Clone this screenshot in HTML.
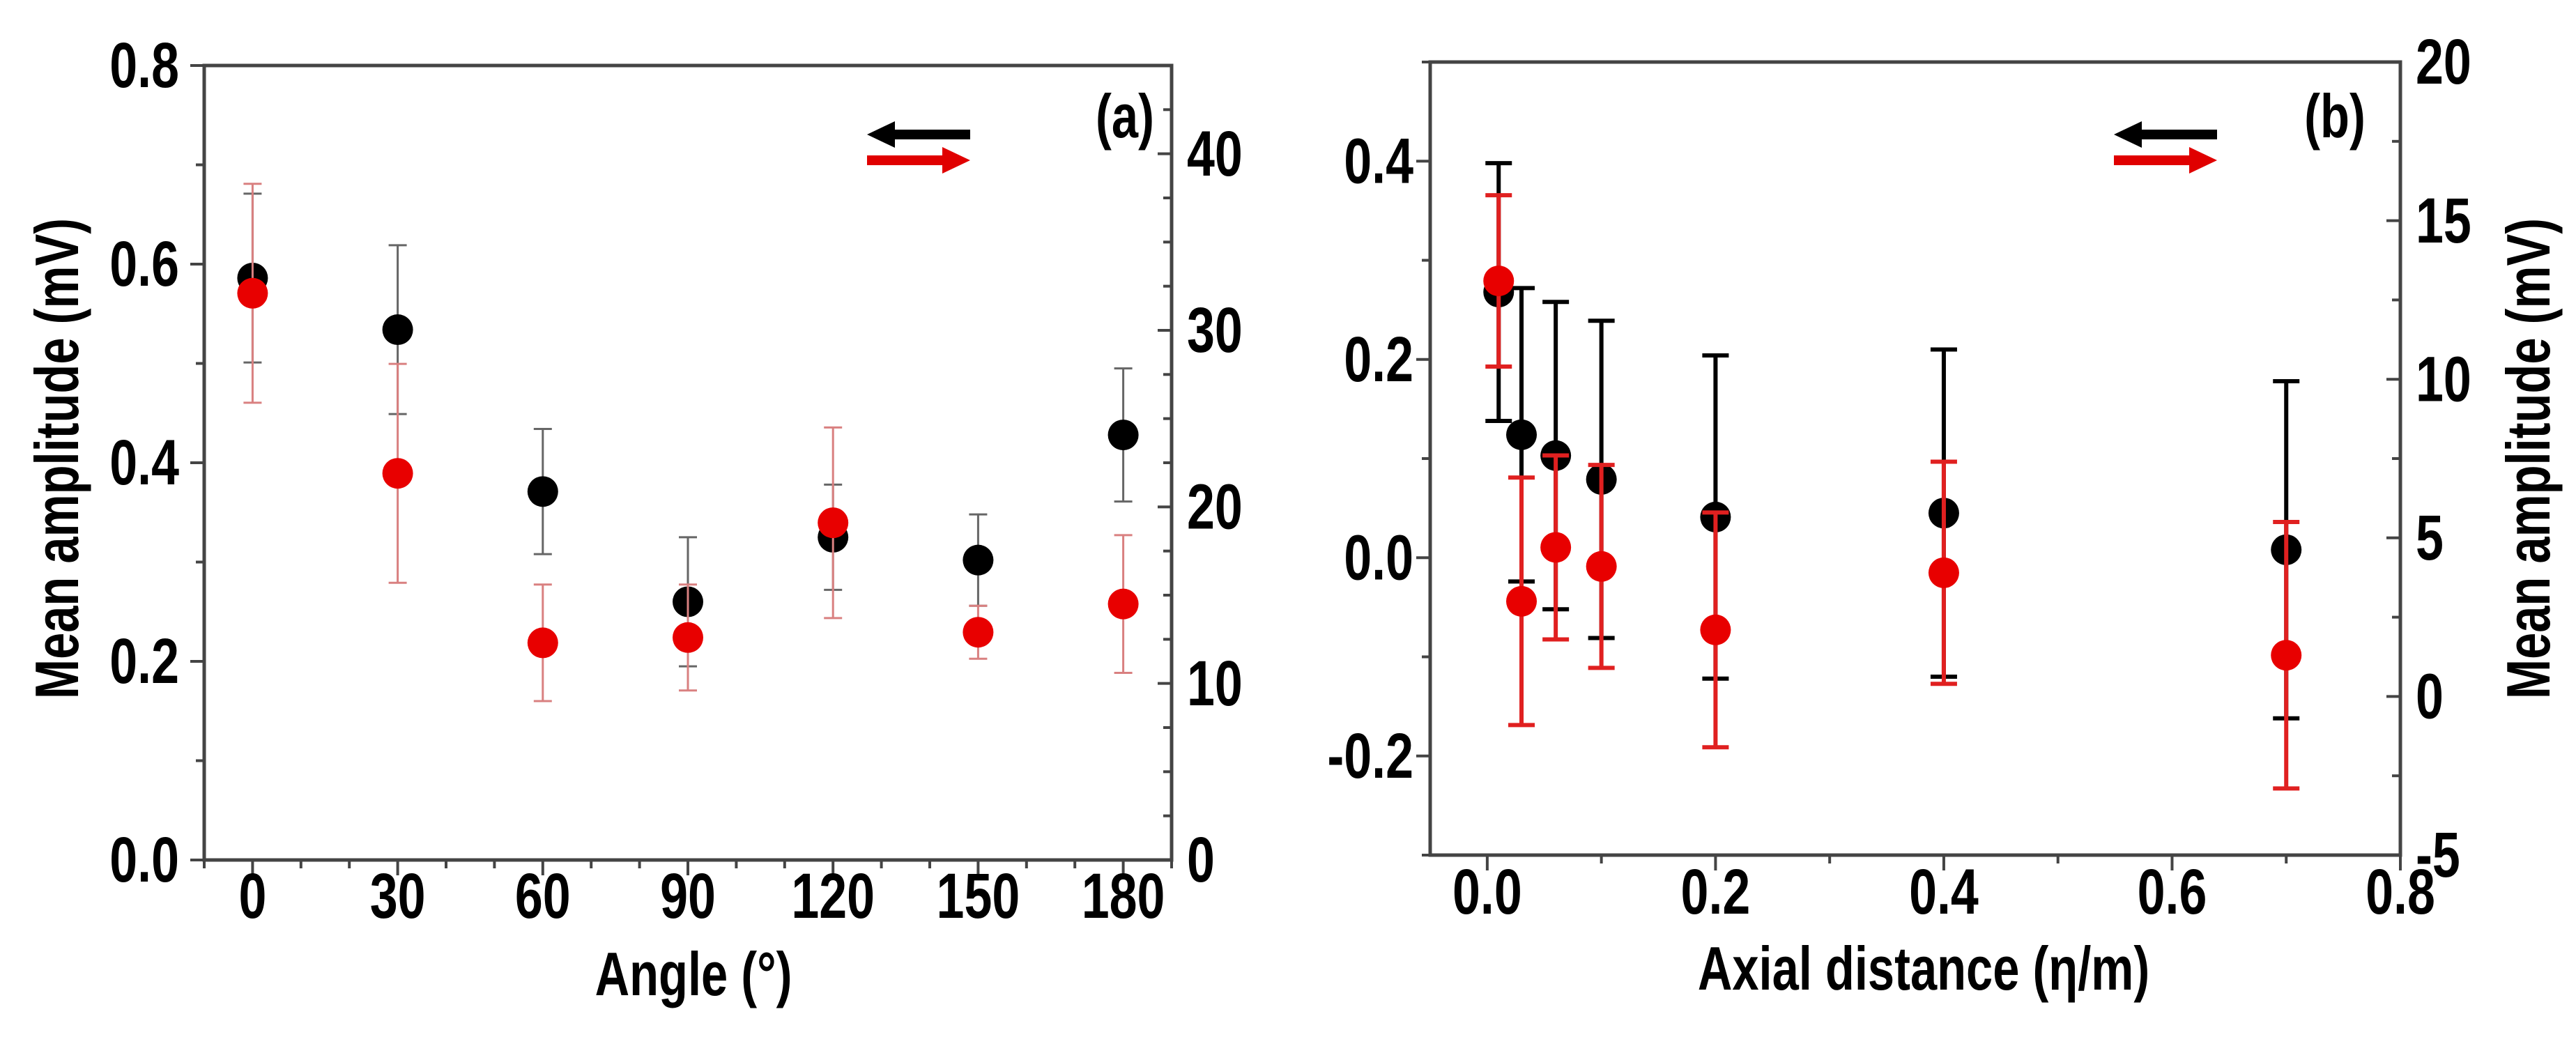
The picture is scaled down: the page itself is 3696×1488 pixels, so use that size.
<!DOCTYPE html>
<html><head><meta charset="utf-8"><style>
html,body{margin:0;padding:0;background:#fff;}
svg{display:block;}
text{font-family:"Liberation Sans Narrow","Liberation Sans",sans-serif;font-weight:bold;fill:#000;}
</style></head><body>
<svg id="fig" width="3696" height="1488" viewBox="0 0 3696 1488"></svg>
<script>
// ---- Panel (a) data ----
const angleCats = [0, 30, 60, 90, 120, 150, 180];
const aBlack = [0.586, 0.534, 0.371, 0.260, 0.325, 0.302, 0.428];
const aBlackErr = [0.085, 0.085, 0.063, 0.065, 0.053, 0.046, 0.067];
const aRed = [32.1, 21.9, 12.3, 12.6, 19.1, 12.9, 14.5];
const aRedErr = [6.2, 6.2, 3.3, 3.0, 5.4, 1.5, 3.9];
const aLeftTicks = ["0.0", "0.2", "0.4", "0.6", "0.8"];
const aRightTicks = ["0", "10", "20", "30", "40"];
// ---- Panel (b) data ----
const axialCats = [0.01, 0.03, 0.06, 0.1, 0.2, 0.4, 0.7];
const bBlack = [0.268, 0.124, 0.103, 0.079, 0.041, 0.045, 0.008];
const bBlackErr = [0.130, 0.148, 0.155, 0.160, 0.163, 0.165, 0.170];
const bRed = [13.1, 3.0, 4.7, 4.1, 2.1, 3.9, 1.3];
const bRedErr = [2.7, 3.9, 2.9, 3.2, 3.7, 3.5, 4.2];
const bLeftTicks = ["-0.2", "0.0", "0.2", "0.4"];
const bRightTicks = ["-5", "0", "5", "10", "15", "20"];
const bXTicks = ["0.0", "0.2", "0.4", "0.6", "0.8"];

const NS = "http://www.w3.org/2000/svg";
const svg = document.getElementById("fig");
const SQ = 0.78;
function el(tag, attrs, parent) {
  const e = document.createElementNS(NS, tag);
  for (const k in attrs) e.setAttribute(k, attrs[k]);
  (parent || svg).appendChild(e);
  return e;
}
function txt(s, x, y, size, anchor, parent, rot) {
  const t = el("text", {x: 0, y: 0, "font-size": size, "text-anchor": anchor || "middle", "dominant-baseline": "central",
    transform: `translate(${x},${y})${rot ? " rotate(" + rot + ")" : ""} scale(${SQ},1)`}, parent);
  t.textContent = s;
  return t;
}
function lin(d0, d1, r0, r1) { return v => r0 + (v - d0) / (d1 - d0) * (r1 - r0); }

function panel(cfg) {
  const g = el("g", {});
  
  
  const {L, R, T, B} = cfg;
  const sx = lin(cfg.xmin, cfg.xmax, L, R);
  const sl = lin(cfg.lmin, cfg.lmax, B, T);
  const sr = lin(cfg.rmin, cfg.rmax, B, T);
  const frame = el("rect", {x: L, y: T, width: R - L, height: B - T, fill: "none", stroke: "#444", "stroke-width": 5}, g);
  
  
  for (let v = cfg.xmin + cfg.xminorOff; v <= cfg.xmax + 1e-9; v += cfg.xminor) {
    const major = Math.abs(Math.round(v / cfg.xmajor) * cfg.xmajor - v) < 1e-6;
    el("line", {x1: sx(v), x2: sx(v), y1: B, y2: B + (major ? 22 : 12), stroke: "#444", "stroke-width": 4}, g);
  }
  cfg.xlabels.forEach(s => {
    const t = txt(s, sx(parseFloat(s)), cfg.xlabY, 92, "middle", g);
    
    
  });
  for (let v = cfg.lmin; v <= cfg.lmax + 1e-9; v += cfg.lminor) {
    const major = Math.abs(Math.round(v / cfg.lmajor) * cfg.lmajor - v) < 1e-6;
    el("line", {x1: L, x2: L - (major ? 20 : 12), y1: sl(v), y2: sl(v), stroke: "#444", "stroke-width": 4}, g);
  }
  cfg.llabels.forEach(s => {
    const t = txt(s, cfg.llabX, sl(parseFloat(s)), 92, "end", g);
    
    
  });
  for (let v = cfg.rmin; v <= cfg.rmax + 1e-9; v += cfg.rminor) {
    const major = Math.abs(Math.round(v / cfg.rmajor) * cfg.rmajor - v) < 1e-6;
    el("line", {x1: R, x2: R - (major ? 20 : 12), y1: sr(v), y2: sr(v), stroke: "#444", "stroke-width": 4}, g);
  }
  cfg.rlabels.forEach(s => {
    const t = txt(s, R + 22, sr(parseFloat(s)), 92, "start", g);
    
    
  });
  function series(xs, ys, es, scale, color, ecolor, ew, cap, nm) {
    xs.forEach((xv, i) => {
      const x = sx(xv), y1 = scale(ys[i] + es[i]), y2 = scale(ys[i] - es[i]);
      const eb = el("g", {stroke: ecolor, "stroke-width": ew}, g);
      
      
      el("line", {x1: x, x2: x, y1: y1, y2: y2}, eb);
      el("line", {x1: x - cap, x2: x + cap, y1: y1, y2: y1}, eb);
      el("line", {x1: x - cap, x2: x + cap, y1: y2, y2: y2}, eb);
    });
    xs.forEach((xv, i) => {
      const c = el("circle", {cx: sx(xv), cy: scale(ys[i]), r: 22, fill: color}, g);
      
      
    });
  }
  series(cfg.xs, cfg.black, cfg.blackErr, sl, "#000", cfg.bEC, cfg.ew, cfg.cap, "black-series");
  series(cfg.xs, cfg.red, cfg.redErr, sr, "#e80000", cfg.rEC, cfg.ew, cfg.cap, "red-series");
  const ax = cfg.arrowX;
  const la = el("g", {}, g);
  
  
  el("rect", {x: ax + 30, y: 186, width: 118, height: 14, fill: "#000"}, la);
  el("polygon", {points: `${ax},193 ${ax + 40},174 ${ax + 40},212`, fill: "#000"}, la);
  el("rect", {x: ax, y: 223, width: 118, height: 14, fill: "#e00000"}, la);
  el("polygon", {points: `${ax + 148},230 ${ax + 108},211 ${ax + 108},249`, fill: "#e00000"}, la);
  const pl = txt(cfg.tag, cfg.tagX, 167, 88, "middle", g);
  
  
  return g;
}

panel({name: "panel-a", L: 293, R: 1681, T: 94, B: 1234,
  xmin: -10, xmax: 190, xminor: 10, xminorOff: 0, xmajor: 30, xlabels: angleCats.map(String), xlabY: 1286,
  lmin: 0, lmax: 0.8, lminor: 0.1, lmajor: 0.2, llabels: aLeftTicks, llabX: 257,
  rmin: 0, rmax: 45, rminor: 2.5, rmajor: 10, rlabels: aRightTicks,
  xs: angleCats, black: aBlack, blackErr: aBlackErr, red: aRed, redErr: aRedErr,
  bEC: "#666", rEC: "#d98080", ew: 3, cap: 13, arrowX: 1244, tag: "(a)", tagX: 1614});

panel({name: "panel-b", L: 2052, R: 3444, T: 89, B: 1227,
  xmin: -0.05, xmax: 0.8, xminor: 0.1, xminorOff: 0.05, xmajor: 0.2, xlabels: bXTicks, xlabY: 1280,
  lmin: -0.3, lmax: 0.5, lminor: 0.1, lmajor: 0.2, llabels: bLeftTicks, llabX: 2028,
  rmin: -5, rmax: 20, rminor: 2.5, rmajor: 5, rlabels: bRightTicks,
  xs: axialCats, black: bBlack, blackErr: bBlackErr, red: bRed, redErr: bRedErr,
  bEC: "#000", rEC: "#e02020", ew: 6, cap: 19, arrowX: 3033, tag: "(b)", tagX: 3350});

let t;
t = txt("Angle (°)", 995, 1398, 88, "middle");


t = txt("Axial distance (η/m)", 2760, 1390, 88, "middle");


t = txt("Mean amplitude (mV)", 82, 658, 88, "middle", null, -90);


t = txt("Mean amplitude (mV)", 3628, 658, 88, "middle", null, -90);


</script>
</body></html>
